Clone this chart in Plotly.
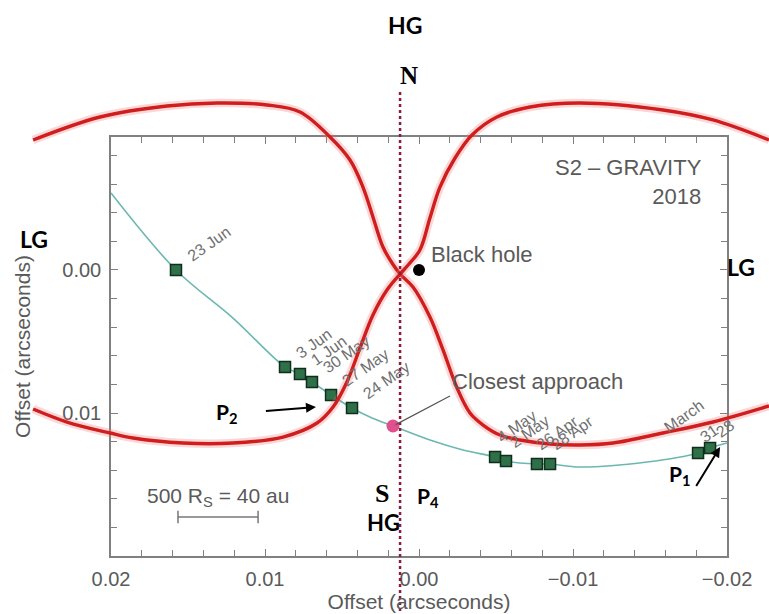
import plotly.graph_objects as go

# ---------------- data (arcseconds) ----------------
# S2 orbit (fitted track)
orbit_x = [0.0200, 0.01578, 0.01208, 0.00870, 0.00773, 0.00695, 0.00571, 0.00435, 0.00305,
           0.00169, -0.00071, -0.00286, -0.00494, -0.00565, -0.00766, -0.00851, -0.01045,
           -0.01481, -0.01812, -0.01890, -0.0200]
orbit_y = [-0.00538, 0.0, 0.00336, 0.00678, 0.00727, 0.00783, 0.00874, 0.00965, 0.01035,
           0.01091, 0.01189, 0.01259, 0.01308, 0.01336, 0.01357, 0.01357, 0.01378,
           0.01343, 0.01280, 0.01245, 0.01210]

# GRAVITY epochs
epoch_labels = ["23 Jun", "3 Jun", "1 Jun", "30 May", "27 May", "24 May",
                "4 May", "2 May", "26 Apr", "28 Apr", "31", "28"]
epoch_x = [0.01578, 0.00870, 0.00773, 0.00695, 0.00571, 0.00435,
           -0.00494, -0.00565, -0.00766, -0.00851, -0.01812, -0.01890]
epoch_y = [0.0, 0.00678, 0.00727, 0.00783, 0.00874, 0.00965,
           0.01308, 0.01336, 0.01357, 0.01357, 0.01280, 0.01245]

closest_x, closest_y = [0.00169], [0.01091]
bh_x, bh_y = [0.0], [0.0]

# red curves (extend beyond the axes box)
curve_a_x = [0.02506, 0.02071, 0.01636, 0.01312, 0.00987, 0.00773, 0.00578, 0.00448, 0.00364,
             0.00299, 0.00234, 0.00175, 0.00123, 0.00039, -0.00071, -0.00156, -0.00247,
             -0.00331, -0.00416, -0.00526, -0.00656, -0.00851, -0.01045, -0.01260,
             -0.01584, -0.01909, -0.02273]
curve_a_y = [-0.00909, -0.01070, -0.01147, -0.01168, -0.01154, -0.01105, -0.00930, -0.00769,
             -0.00580, -0.00371, -0.00161, -0.00049, 0.00028, 0.00119, 0.00329, 0.00559,
             0.00825, 0.01000, 0.01084, 0.01154, 0.01189, 0.01217, 0.01224, 0.01210,
             0.01140, 0.01063, 0.00951]
curve_b_x = [-0.02273, -0.01909, -0.01584, -0.01045, -0.00721, -0.00506, -0.00344, -0.00234,
             -0.00136, -0.00071, -0.00006, 0.00065, 0.00123, 0.00208, 0.00299, 0.00383,
             0.00468, 0.00558, 0.00662, 0.00883, 0.01208, 0.01532, 0.01857, 0.02006,
             0.02286, 0.02506]
curve_b_y = [-0.00909, -0.01049, -0.01119, -0.01168, -0.01140, -0.01070, -0.00944, -0.00783,
             -0.00580, -0.00364, -0.00140, -0.00042, 0.00028, 0.00140, 0.00315, 0.00545,
             0.00783, 0.00958, 0.01070, 0.01168, 0.01210, 0.01210, 0.01175, 0.01140,
             0.01063, 0.00972]

# N-S reference line
ns_x = [0.00123, 0.00123]
ns_y = [-0.01245, 0.02406]

# scale bar: 500 R_S = 40 au
scale_x = [0.01565, 0.01045]
scale_y = [0.01727, 0.01727]

x_ticks = [0.02, 0.01, 0.0, -0.01, -0.02]
x_ticktext = ["0.02", "0.01", "0.00", "\u22120.01", "\u22120.02"]
y_ticks = [0.0, 0.01]
y_ticktext = ["0.00", "0.01"]

# ---------------- layout geometry ----------------
W, H = 769, 614
L, R, T, B = 111, 727, 137, 556          # axes box in pixels
x_range = [0.02, -0.02]
y_range = [0.02, -0.0093]                 # bottom value, top value

xd = [L / W, R / W]
yd = [(H - B) / H, (H - T) / H]
kx = (x_range[1] - x_range[0]) / (R - L)
ky = (y_range[0] - y_range[1]) / (B - T)
x2_range = [x_range[0] - L * kx, x_range[0] + (W - L) * kx]
y2_range = [y_range[0] + (H - B) * ky, y_range[1] - T * ky]


def px(xp, yp):
    return xp / W, 1 - yp / H


GRAY = "#5a5a5a"
SANS = "Liberation Sans, Arial, sans-serif"
BOLD = "Lato, Open Sans, sans-serif"
SERIF = "Liberation Serif, Times New Roman, serif"

fig = go.Figure()

# orbit
fig.add_trace(go.Scatter(x=orbit_x, y=orbit_y, mode="lines", line=dict(color="#6bb8b0", width=1.6, shape="spline"),
                         xaxis="x", yaxis="y", hoverinfo="skip"))
fig.add_trace(go.Scatter(x=epoch_x, y=epoch_y, mode="markers",
                         marker=dict(symbol="square", size=11, color="#2f7048",
                                     line=dict(color="#0f2e1c", width=1.5)),
                         xaxis="x", yaxis="y"))
fig.add_trace(go.Scatter(x=closest_x, y=closest_y, mode="markers",
                         marker=dict(symbol="circle", size=13, color="#e0508c"), xaxis="x", yaxis="y"))
fig.add_trace(go.Scatter(x=bh_x, y=bh_y, mode="markers",
                         marker=dict(symbol="circle", size=12, color="black"), xaxis="x", yaxis="y"))
fig.add_trace(go.Scatter(x=scale_x, y=scale_y, mode="lines+markers",
                         line=dict(color="#777", width=1.5),
                         marker=dict(symbol="line-ns-open", size=9, line=dict(color="#777", width=1.5)),
                         xaxis="x", yaxis="y"))

# overlay: red curves + N-S line (full page subplot)
for cx, cy in [(curve_a_x, curve_a_y), (curve_b_x, curve_b_y)]:
    fig.add_trace(go.Scatter(x=cx, y=cy, mode="lines",
                             line=dict(color="rgba(240,110,110,0.28)", width=8.5, shape="spline"),
                             xaxis="x2", yaxis="y2", hoverinfo="skip"))
    fig.add_trace(go.Scatter(x=cx, y=cy, mode="lines",
                             line=dict(color="#d01e1e", width=3.4, shape="spline"),
                             xaxis="x2", yaxis="y2", hoverinfo="skip"))
fig.add_trace(go.Scatter(x=ns_x, y=ns_y, mode="lines",
                         line=dict(color="#8e1a3c", width=2.5, dash="dot"),
                         xaxis="x2", yaxis="y2", hoverinfo="skip"))

axis_common = dict(showline=True, linecolor="#808080", linewidth=1.5, mirror="allticks",
                   ticks="inside", ticklen=7, tickcolor="#808080", tickwidth=1.3,
                   showgrid=False, zeroline=False, automargin=False,
                   tickfont=dict(family=SANS, size=20, color=GRAY),
                   title_font=dict(family=SANS, size=21, color=GRAY))

fig.update_layout(
    width=W, height=H, margin=dict(l=0, r=0, t=0, b=0),
    paper_bgcolor="white", plot_bgcolor="rgba(0,0,0,0)", showlegend=False,
    xaxis=dict(domain=xd, range=x_range, tickmode="array", tickvals=x_ticks, ticktext=x_ticktext,
               title_text="Offset (arcseconds)", title_standoff=0, ticklabelstandoff=4,
               minor=dict(tickmode="linear", tick0=0, dtick=0.002, ticks="inside", ticklen=6,
                          tickcolor="#808080", tickwidth=1.2),
               anchor="y", **axis_common),
    yaxis=dict(domain=yd, range=y_range, tickmode="array", tickvals=y_ticks, ticktext=y_ticktext,
               title_text="Offset (arcseconds)", title_standoff=26, ticklabelstandoff=4,
               minor=dict(tickmode="linear", tick0=0, dtick=0.002, ticks="inside", ticklen=6,
                          tickcolor="#808080", tickwidth=1.2),
               anchor="x", **axis_common),
    xaxis2=dict(domain=[0, 1], range=x2_range, visible=False, anchor="y2", automargin=False),
    yaxis2=dict(domain=[0, 1], range=y2_range, visible=False, anchor="x2", automargin=False),
)

ann = []
# date labels
label_offsets = [(6, 3), (5, 3), (5, 3), (5, 3), (5, 3), (5, 3),
                 (-4, 8), (-2, 7), (-6, 8), (-4, 8), (-4, 5), (0, 5)]
for t, x, y, (dx, dy) in zip(epoch_labels, epoch_x, epoch_y, label_offsets):
    ann.append(dict(x=x, y=y, xref="x", yref="y", text=t, showarrow=False, textangle=-35,
                    xanchor="left", yanchor="bottom", xshift=dx, yshift=dy,
                    font=dict(family=SANS, size=16, color="#707070")))
ann.append(dict(x=epoch_x[10], y=epoch_y[10], xref="x", yref="y", text="March", showarrow=False,
                textangle=-35, xanchor="left", yanchor="bottom", xshift=-40, yshift=14,
                font=dict(family=SANS, size=16, color="#707070")))
# black hole
ann.append(dict(x=bh_x[0], y=bh_y[0], xref="x", yref="y", text="Black hole", showarrow=False,
                xanchor="left", yanchor="middle", xshift=10, yshift=15,
                font=dict(family=SANS, size=22, color=GRAY)))
# closest approach with leader line
ann.append(dict(x=closest_x[0], y=closest_y[0], xref="x", yref="y", text="Closest approach",
                showarrow=True, arrowhead=0, arrowwidth=1.2, arrowcolor="#555",
                ax=57, ay=-30, xanchor="left", yanchor="bottom", standoff=3,
                font=dict(family=SANS, size=22, color=GRAY)))
# S2 title
tx, ty = px(704, 153)
ann.append(dict(x=tx, y=ty, xref="paper", yref="paper", text="S2 \u2013 GRAVITY<br>2018",
                showarrow=False, xanchor="right", yanchor="top", align="right",
                font=dict(family=SANS, size=22, color=GRAY)))
# scale bar label
ann.append(dict(x=sum(scale_x) / 2, y=scale_y[0], xref="x", yref="y",
                text="500 R<sub>S</sub> = 40 au", showarrow=False, yshift=20,
                font=dict(family=SANS, size=21, color=GRAY)))
# P arrows
ann.append(dict(x=0.00669, y=0.00958, xref="x", yref="y", text="<b>P<sub>2</sub></b>",
                showarrow=True, arrowhead=2, arrowsize=1, arrowwidth=2, arrowcolor="black",
                ax=-76, ay=6, xanchor="right", yanchor="middle", startstandoff=26,
                font=dict(family=BOLD, size=21, color="black")))
ann.append(dict(x=-0.01955, y=0.01238, xref="x", yref="y", text="<b>P<sub>1</sub></b>",
                showarrow=True, arrowhead=2, arrowsize=1, arrowwidth=2, arrowcolor="black",
                ax=-27, ay=44, xanchor="right", yanchor="bottom", startstandoff=6,
                font=dict(family=BOLD, size=21, color="black")))

# page labels
for text, (xp, yp), fam, size in [
    ("<b>HG</b>", (405, 25), BOLD, 23),
    ("<b>N</b>", (409, 75), SERIF, 25),
    ("<b>LG</b>", (34, 239), BOLD, 23),
    ("<b>LG</b>", (741, 267), BOLD, 23),
    ("<b>S</b>", (382, 493), SERIF, 26),
    ("<b>HG</b>", (383, 522), BOLD, 22),
    ("<b>P<sub>4</sub></b>", (428, 497), BOLD, 21),
]:
    x, y = px(xp, yp)
    ann.append(dict(x=x, y=y, xref="paper", yref="paper", text=text, showarrow=False,
                    xanchor="center", yanchor="middle", font=dict(family=fam, size=size, color="black")))

fig.update_layout(annotations=ann)
fig.write_html("out.html")
